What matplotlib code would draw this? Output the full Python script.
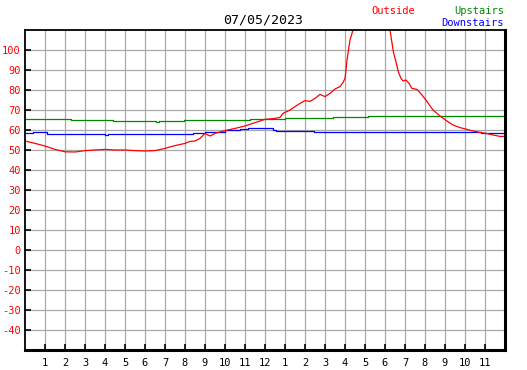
import matplotlib
matplotlib.use('Agg')
import matplotlib.pyplot as plt

# hours after midnight and readings (deg F)
out_hours = [0.0, 0.5, 1.0, 1.5, 2.0, 2.5, 3.0, 3.5, 4.0, 4.5, 5.0, 5.5, 6.0, 6.5,
             7.0, 7.5, 8.0, 8.25, 8.5, 8.75, 9.0, 9.25, 9.5, 10.0, 10.5, 11.0,
             11.5, 12.0, 12.5, 12.75, 12.9, 13.25, 13.5, 13.75, 14.0, 14.25,
             14.5, 14.75, 15.0, 15.25, 15.5, 15.75, 15.9, 16.0, 16.05, 16.1,
             16.25, 16.4, 16.7, 17.4, 18.0, 18.25, 18.42, 18.55, 18.67, 18.8,
             18.9, 19.05, 19.2, 19.35, 19.6, 19.85, 20.1, 20.4, 20.75, 21.1,
             21.4, 21.75, 22.1, 22.4, 22.75, 23.1, 23.4, 23.75, 23.95]
outside = [54.5, 53.3, 52.0, 50.3, 49.1, 49.0, 49.7, 50.0, 50.3, 50.0, 50.0, 49.7,
           49.5, 49.7, 50.8, 52.2, 53.3, 54.3, 54.5, 55.8, 58.3, 57.0, 58.3, 59.7,
           60.8, 62.0, 63.7, 65.3, 65.8, 66.3, 68.3, 70.0, 71.7, 73.3, 74.7, 74.3,
           75.8, 77.8, 76.7, 78.3, 80.5, 81.7, 83.7, 85.8, 90.0, 95.0, 105.0,
           110.0, 118.0, 125.0, 118.0, 110.0, 99.0, 94.0, 89.0, 85.8, 84.5, 85.0,
           83.3, 80.8, 80.3, 77.5, 74.2, 70.0, 67.0, 64.5, 62.5, 61.2, 60.3, 59.5,
           58.8, 58.2, 57.5, 56.8, 56.8]

up_hours = [0.0, 2.3, 4.4, 6.55, 6.7, 7.95, 11.25, 13.0, 15.4, 17.15, 23.95]
upstairs = [65.3, 64.8, 64.3, 64.0, 64.3, 65.0, 65.5, 66.0, 66.5, 67.0, 67.0]

down_hours = [0.0, 0.4, 0.65, 1.1, 4.0, 4.15, 8.4, 9.0, 10.0, 10.75, 11.15,
              12.25, 12.4, 12.55, 14.45, 22.8, 23.95]
downstairs = [58.3, 58.8, 59.0, 58.2, 57.7, 57.9, 58.7, 59.2, 59.8, 60.5, 61.2,
              61.0, 60.0, 59.5, 58.8, 58.4, 58.4]

date_label = '07/05/2023'
hour_labels = [str(h) for h in range(1, 12)] + ['12'] + [str(h) for h in range(1, 12)]
y_ticks = list(range(-40, 101, 10))

W, H = 527, 370
fig = plt.figure(figsize=(W / 100, H / 100), dpi=100)
fig.patch.set_facecolor('white')
ax = fig.add_axes([25 / W, (H - 350) / H, (505 - 25) / W, (350 - 30) / H])

ax.set_xlim(0, 24)
ax.set_ylim(-50, 110)
ax.set_xticks(range(1, 24))
ax.set_xticklabels(hour_labels)
ax.set_yticks(y_ticks)
ax.set_yticklabels([str(v) for v in y_ticks])
ax.grid(True, color='#a8a8a8', linewidth=0.9)
ax.set_axisbelow(True)

ax.tick_params(axis='both', direction='in', length=4, width=1.2, color='black',
               labelsize=7.5, pad=3)
ax.tick_params(axis='x', pad=6)
for lab in ax.get_yticklabels():
    lab.set_color('red')
    lab.set_family('DejaVu Sans Mono')
for lab in ax.get_xticklabels():
    lab.set_family('DejaVu Sans Mono')

for side in ['left', 'top']:
    ax.spines[side].set_linewidth(1.3)
for side in ['right', 'bottom']:
    ax.spines[side].set_linewidth(2.2)

ax.plot(up_hours, upstairs, color='#008800', linewidth=0.9, drawstyle='steps-post')
ax.plot(down_hours, downstairs, color='#0000ff', linewidth=0.9, drawstyle='steps-post')
ax.plot(out_hours, outside, color='#ff0000', linewidth=0.9)

fig.text(263 / W, 1 - 20 / H, date_label, ha='center', va='center',
         fontsize=9.5, family='DejaVu Sans Mono', color='black')
fig.text(393 / W, 1 - 11 / H, 'Outside', ha='center', va='center',
         fontsize=7.5, family='DejaVu Sans Mono', color='#ff0000')
fig.text(504 / W, 1 - 11 / H, 'Upstairs', ha='right', va='center',
         fontsize=7.5, family='DejaVu Sans Mono', color='#008800')
fig.text(504 / W, 1 - 23 / H, 'Downstairs', ha='right', va='center',
         fontsize=7.5, family='DejaVu Sans Mono', color='#0000ff')

fig.savefig('out.png', dpi=100, facecolor='white')
